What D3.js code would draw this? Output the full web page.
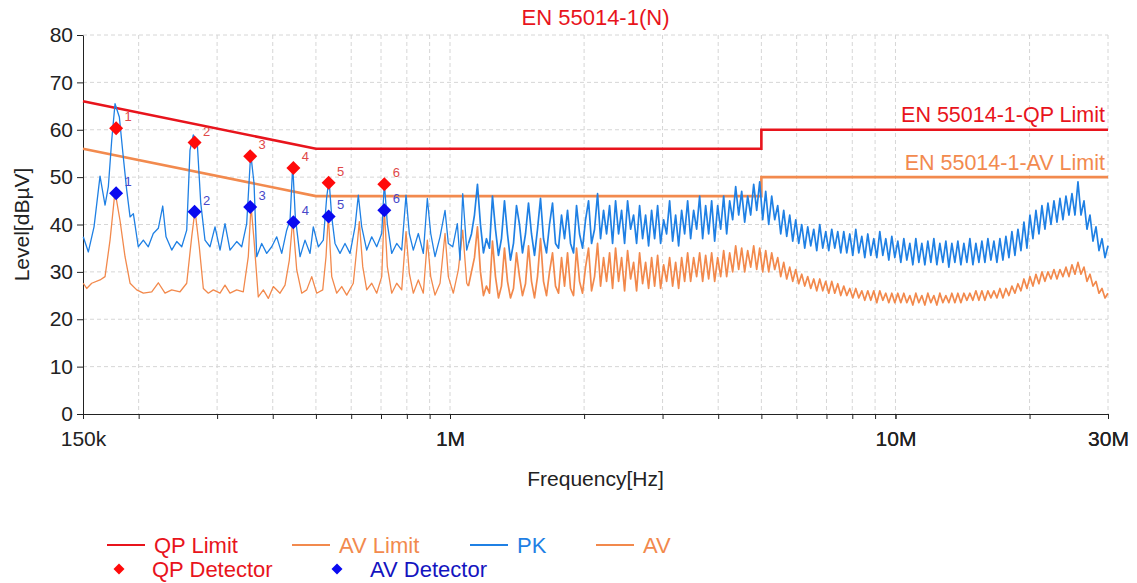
<!DOCTYPE html>
<html>
<head>
<meta charset="utf-8">
<script src="https://cdn.jsdelivr.net/npm/d3@7"></script>
<style>
  body { margin: 0; background: #fff; }
  text { font-family: "Liberation Sans", Arial, sans-serif; }
</style>
</head>
<body>
<svg id="chart" width="1137" height="583"></svg>
<script>
// ---- data (frequency in kHz / Hz, level in dBµV) ----
const chartTitle = 'EN 55014-1(N)';

// limit lines: [Hz, dBµV]
const qpLimit = [[150e3, 66], [500e3, 56], [5e6, 56], [5e6, 60], [30e6, 60]];
const avLimit = [[150e3, 56], [500e3, 46], [5e6, 46], [5e6, 50], [30e6, 50]];

// PK trace below 1.1 MHz: [kHz, dBµV]
const pkLow = [
  [150.2,37.4],[154.2,34.2],[158.8,39.5],[163.8,50.2],[168.1,44.1],[171.0,48.0],[174.0,57.8],[177.0,65.5],
  [181.0,62.7],[184.7,54.3],[188.0,47.3],[191.3,41.6],[194.6,42.3],[199.6,35.3],[204.9,36.7],[210.2,35.3],
  [215.7,38.1],[221.4,39.2],[226.5,43.9],[230.4,37.4],[237.3,34.6],[243.5,36.4],[249.9,35.3],[256.4,38.8],
  [260.8,55.7],[265.3,58.9],[270.8,57.1],[275.7,44.5],[281.8,36.7],[289.2,35.3],[296.8,39.5],[304.6,34.6],
  [312.5,40.2],[320.7,34.6],[332.0,36.4],[340.7,35.3],[349.6,40.2],[356.9,55.0],[363.1,48.7],[368.2,33.2],
  [377.8,36.0],[387.7,33.9],[397.9,35.3],[408.3,37.4],[419.0,33.9],[429.9,38.8],[437.4,40.9],[443.5,52.5],
  [449.5,41.6],[460.6,33.2],[472.6,36.7],[485.0,33.9],[493.3,39.5],[506.3,35.3],[519.5,36.7],[528.7,45.8],
  [535.0,49.5],[542.6,41.6],[551.9,36.0],[566.3,33.9],[581.1,36.0],[596.4,33.9],[612.0,39.5],[622.5,46.2],
  [633.6,39.5],[650.1,34.6],[667.2,37.4],[684.6,35.3],[702.6,38.1],[712.1,48.8],[723.2,40.2],[739.8,33.9],
  [759.2,36.0],[779.1,34.6],[796.6,46.2],[810.3,38.1],[827.2,34.6],[848.9,38.1],[871.1,33.9],[889.4,45.5],
  [905.1,38.1],[925.5,33.2],[949.7,37.4],[974.6,43.0],[991.4,36.0],[1014.1,35.3],[1038.6,40.2],[1053.1,32.5],
  [1068.0,46.5],[1090.3,34.6]
];

// AV trace below 1.1 MHz: [kHz, dBµV]
const avLow = [
  [150.2,27.6],[152.9,26.5],[156.9,27.6],[163.8,28.3],[168.1,29.0],[172.5,36.7],[177.0,47.0],[181.6,40.9],
  [186.4,33.2],[191.3,27.6],[198.0,26.2],[204.9,25.5],[214.0,25.8],[221.4,27.7],[229.2,25.5],[237.3,26.2],
  [247.7,25.8],[256.4,27.6],[263.1,37.4],[267.6,43.0],[273.6,35.3],[279.4,26.5],[286.7,25.5],[294.2,26.2],
  [304.6,25.5],[312.5,27.2],[320.7,25.5],[332.0,26.2],[343.5,25.8],[352.5,33.2],[357.5,44.0],[363.1,36.7],
  [371.2,24.7],[381.0,26.2],[390.9,24.4],[401.2,26.9],[415.3,25.5],[426.2,27.2],[435.8,32.5],[443.5,41.0],
  [452.8,30.4],[464.6,25.5],[476.8,26.2],[489.3,29.0],[502.1,25.5],[517.9,26.2],[526.8,33.2],[533.1,42.0],
  [542.6,29.0],[556.8,25.5],[571.4,26.9],[586.3,25.1],[606.6,27.6],[619.3,36.0],[625.8,40.6],[636.9,31.1],
  [650.1,26.2],[667.2,27.6],[684.6,25.5],[702.6,29.0],[712.1,43.5],[723.2,31.1],[739.8,25.5],[759.2,27.6],
  [779.1,26.2],[796.6,38.5],[810.3,29.7],[827.2,25.5],[848.9,28.3],[871.1,25.5],[889.4,36.7],[905.1,29.0],
  [925.5,25.1],[949.7,27.6],[974.6,38.1],[991.4,29.0],[1017.3,25.5],[1044.0,30.4],[1068.0,38.8],[1090.3,27.6]
];

// sweep 1.1 MHz .. 30 MHz, log-spaced receiver points
const sweepStartHz = 1.1e6;
const sweepStopHz = 30e6;
const pkSweep = [
  36,38,42,48.5,40,34,37,35,46,39,
  33.5,37,45,38,32.5,36,44,40,34,38,
  44.5,38,33.5,39,45.5,37,34,40,44.5,36,
  35,42,37,43,36,34,44,38,35,41,
  45,36,39,46.5,37,43,38,44,36,45,
  38,43,36,45,39,42,36,44,37,42,
  35.5,43,37,44,36,41,38,45,36.5,42,
  35.5,43,38,45,37,43,39,46,37,44,
  38,45,36.5,44,39,46,38,45,41,48,
  42,47,40.5,46,42,48.5,43,49,41,47,
  40,46,41,44,38,43,37.5,42,36.5,41,
  36,40,35,39.5,35.5,39,34.5,40,35,38.5,
  34.5,39,35,38.5,34,38.5,34,38,33.5,39,
  34,37.5,33,38,33.5,37,33,38.5,33.5,37,
  32.5,37.5,33,36.5,32,37,32.5,36,31.5,37,
  32,36,31.5,36.5,32,37,31.5,36,32,36.5,
  31,36,32,36.5,31.5,36,32,37,31.5,36,
  32,36.5,32,37,32.5,36.5,32,37,32.5,37.5,
  33,38.5,33.5,39,34.5,40.5,35,42,37,43,
  38,44,39,44.5,40,45,40.5,45.5,41,46,
  42,46.5,42,49,42,45,39,42,36.5,39.5,
  34.5,37,33,35.5
];
const avSweep = [
  27,30,33,39.5,30,25,27,25.5,36.5,29,
  24.5,27,35,28,24.5,26.5,34,29,25,27.5,
  35.5,28,24.5,29,37,28,25,30,34,27,
  25.5,33,27,34,26.5,25,35,28,25.5,31,
  35,26,29,36,27,33,28,34,26.5,35,
  28,33,26,34.5,28.5,32,26,34,27.5,32,
  26.5,33,27,33.5,26.5,31.5,28,33,27,32,
  26.5,33,28,34,28,33,29,34,28,33.5,
  28.5,34,28,33,29,34.5,29,34,30,35.5,
  30.5,35,30,34.5,31,35.5,30.5,35,30,34.5,
  30,34,30.5,33,29,32,28.5,31,28,30.5,
  27.5,29.5,27,29,26.5,28.5,26,28.5,26,28,
  25.5,28,25.5,27.5,25,27,25,26.5,24.5,26.5,
  24.5,26,24,26,24,26,23.5,26,24,25.5,
  23.5,25.5,23.5,25.5,23.5,25.5,23.5,25,23,25.5,
  23.5,25,23,25.5,23.5,25,23,25.5,23.5,25,
  23.5,25.5,23.5,25.5,23.5,25.5,24,25.5,24,26,
  24,26,24,26,24.5,26,24.5,26.5,24.5,26.5,
  25,27,25.5,27.5,26,28.5,26.5,29,27,29.5,
  27.5,30,28,30,28.5,30.5,28.5,30.5,29,31,
  29,31.5,29.5,32,29.5,31,28,29.5,27,28,
  25.5,26.5,24.5,25.5
];

// final detector results
const detIds = ['1', '2', '3', '4', '5', '6'];
const detFreqKHz = [178, 267, 356, 445, 534, 712];
const qpLevels = [60.3, 57.3, 54.4, 51.9, 48.8, 48.5];
const avLevels = [46.6, 42.7, 43.7, 40.5, 41.7, 43.0];

// axes
const yTicks = [0, 10, 20, 30, 40, 50, 60, 70, 80];
const xLabelTicks = [150e3, 1e6, 10e6, 30e6];
const xLabelText = ['150k', '1M', '10M', '30M'];
const xGridFreqs = [200e3, 300e3, 400e3, 500e3, 600e3, 700e3, 800e3, 900e3, 1e6,
  2e6, 3e6, 4e6, 5e6, 6e6, 7e6, 8e6, 9e6, 10e6, 20e6, 30e6];

// legend
const legendLines = ['QP Limit', 'AV Limit', 'PK', 'AV'];
const legendMarkers = ['QP Detector', 'AV Detector'];

// ---- styles ----
const C = {
  qp: '#e8141c',
  avLim: '#f28a4e',
  pk: '#1f80e4',
  av: '#f2894c',
  qpMark: '#ff0a0a',
  avMark: '#0a0af0',
  qpNum: '#e04848',
  avNum: '#4848c8',
  grid: '#d6d6d6'
};

const svg = d3.select('#chart');
const m = { left: 83, right: 1108, top: 35, bottom: 414 };

const x = d3.scaleLog().domain([150e3, 30e6]).range([m.left, m.right]);
const y = d3.scaleLinear().domain([0, 80]).range([m.bottom, m.top]);

// grid
const grid = svg.append('g').attr('class', 'grid');
grid.selectAll('line.v').data(xGridFreqs).enter().append('line')
  .attr('x1', d => x(d)).attr('x2', d => x(d))
  .attr('y1', m.top).attr('y2', m.bottom)
  .attr('stroke', C.grid).attr('stroke-dasharray', '4,3');
grid.selectAll('line.h').data(yTicks.slice(1)).enter().append('line')
  .attr('x1', m.left).attr('x2', m.right)
  .attr('y1', d => y(d)).attr('y2', d => y(d))
  .attr('stroke', C.grid).attr('stroke-dasharray', '4,3');

// axes
const xAxis = d3.axisBottom(x)
  .tickValues(xLabelTicks.concat(xGridFreqs))
  .tickFormat(d => {
    const i = xLabelTicks.indexOf(d);
    return i >= 0 ? xLabelText[i] : '';
  })
  .tickSize(5).tickSizeOuter(0).tickPadding(12);
const gx = svg.append('g').attr('transform', `translate(0,${m.bottom})`).call(xAxis);
gx.selectAll('text').attr('font-size', 21).attr('fill', '#222')
  .attr('font-family', '"Liberation Sans", Arial, sans-serif');
gx.selectAll('line, path').attr('stroke', '#222');

const yAxis = d3.axisLeft(y).tickValues(yTicks).tickSize(6).tickSizeOuter(0).tickPadding(4);
const gy = svg.append('g').attr('transform', `translate(${m.left},0)`).call(yAxis);
gy.selectAll('text').attr('font-size', 21).attr('fill', '#222')
  .attr('font-family', '"Liberation Sans", Arial, sans-serif');
gy.selectAll('line, path').attr('stroke', '#222');

// axis titles
svg.append('text').attr('x', (m.left + m.right) / 2).attr('y', 486)
  .attr('text-anchor', 'middle').attr('font-size', 21).attr('fill', '#222')
  .text('Frequency[Hz]');
svg.append('text').attr('transform', `translate(29,${(m.top + m.bottom) / 2}) rotate(-90)`)
  .attr('text-anchor', 'middle').attr('font-size', 21).attr('fill', '#222')
  .text('Level[dBµV]');
svg.append('text').attr('x', (m.left + m.right) / 2).attr('y', 25)
  .attr('text-anchor', 'middle').attr('font-size', 22).attr('fill', C.qp)
  .text(chartTitle);

// limit lines
const line = d3.line().x(d => x(d[0])).y(d => y(d[1]));
svg.append('path').datum(avLimit).attr('d', line)
  .attr('fill', 'none').attr('stroke', C.avLim).attr('stroke-width', 2.6);
svg.append('path').datum(qpLimit).attr('d', line)
  .attr('fill', 'none').attr('stroke', C.qp).attr('stroke-width', 2.6);

svg.append('text').attr('x', 1105).attr('y', y(60) - 8)
  .attr('text-anchor', 'end').attr('font-size', 21.5).attr('fill', C.qp)
  .text('EN 55014-1-QP Limit');
svg.append('text').attr('x', 1105).attr('y', y(50) - 7)
  .attr('text-anchor', 'end').attr('font-size', 21.5).attr('fill', C.avLim)
  .text('EN 55014-1-AV Limit');

// traces: low part thin, dense sweep part a little wider so the noise reads as a band
const sweepHz = n => d3.range(n).map(i => sweepStartHz * Math.pow(sweepStopHz / sweepStartHz, i / (n - 1)));
const pkLowData = pkLow.map(d => [d[0] * 1e3, d[1]]);
const avLowData = avLow.map(d => [d[0] * 1e3, d[1]]);
const pkSweepData = sweepHz(pkSweep.length).map((f, i) => [f, pkSweep[i]]);
const avSweepData = sweepHz(avSweep.length).map((f, i) => [f, avSweep[i]]);

function trace(data, color, width) {
  svg.append('path').datum(data).attr('d', line)
    .attr('fill', 'none').attr('stroke', color).attr('stroke-width', width)
    .attr('stroke-linejoin', 'round');
}
trace(avLowData.concat(avSweepData.slice(0, 1)), C.av, 1.3);
trace(avSweepData, C.av, 1.7);
trace(pkLowData.concat(pkSweepData.slice(0, 1)), C.pk, 1.3);
trace(pkSweepData, C.pk, 1.7);

// detector markers
const diamond = r => `M0,${-r}L${r},0L0,${r}L${-r},0Z`;
const marks = svg.append('g');
function drawMarks(levels, color, numColor) {
  const g = marks.append('g');
  g.selectAll('path').data(detFreqKHz).enter().append('path')
    .attr('d', diamond(7))
    .attr('transform', (d, i) => `translate(${x(d * 1e3)},${y(levels[i])})`)
    .attr('fill', color);
  g.selectAll('text').data(detFreqKHz).enter().append('text')
    .attr('x', d => x(d * 1e3) + 12)
    .attr('y', (d, i) => y(levels[i]) - 7)
    .attr('text-anchor', 'middle').attr('font-size', 13).attr('fill', numColor)
    .text((d, i) => detIds[i]);
}
drawMarks(qpLevels, C.qpMark, C.qpNum);
drawMarks(avLevels, C.avMark, C.avNum);

// legend
const legendColors = [C.qp, C.avLim, C.pk, C.av];
const legendX = [107, 292, 470, 596];
const lg = svg.append('g');
legendLines.forEach((name, i) => {
  lg.append('line').attr('x1', legendX[i]).attr('x2', legendX[i] + 38)
    .attr('y1', 545).attr('y2', 545)
    .attr('stroke', legendColors[i]).attr('stroke-width', 2.2);
  lg.append('text').attr('x', legendX[i] + 47).attr('y', 553)
    .attr('font-size', 22).attr('fill', legendColors[i]).text(name);
});
const markerColors = [C.qpMark, C.avMark];
const markerTextColors = [C.qp, '#1414c0'];
const markerX = [119, 337];
legendMarkers.forEach((name, i) => {
  lg.append('path').attr('d', diamond(5.5))
    .attr('transform', `translate(${markerX[i]},569)`).attr('fill', markerColors[i]);
  lg.append('text').attr('x', markerX[i] + 33).attr('y', 577)
    .attr('font-size', 22).attr('fill', markerTextColors[i]).text(name);
});
</script>
</body>
</html>
